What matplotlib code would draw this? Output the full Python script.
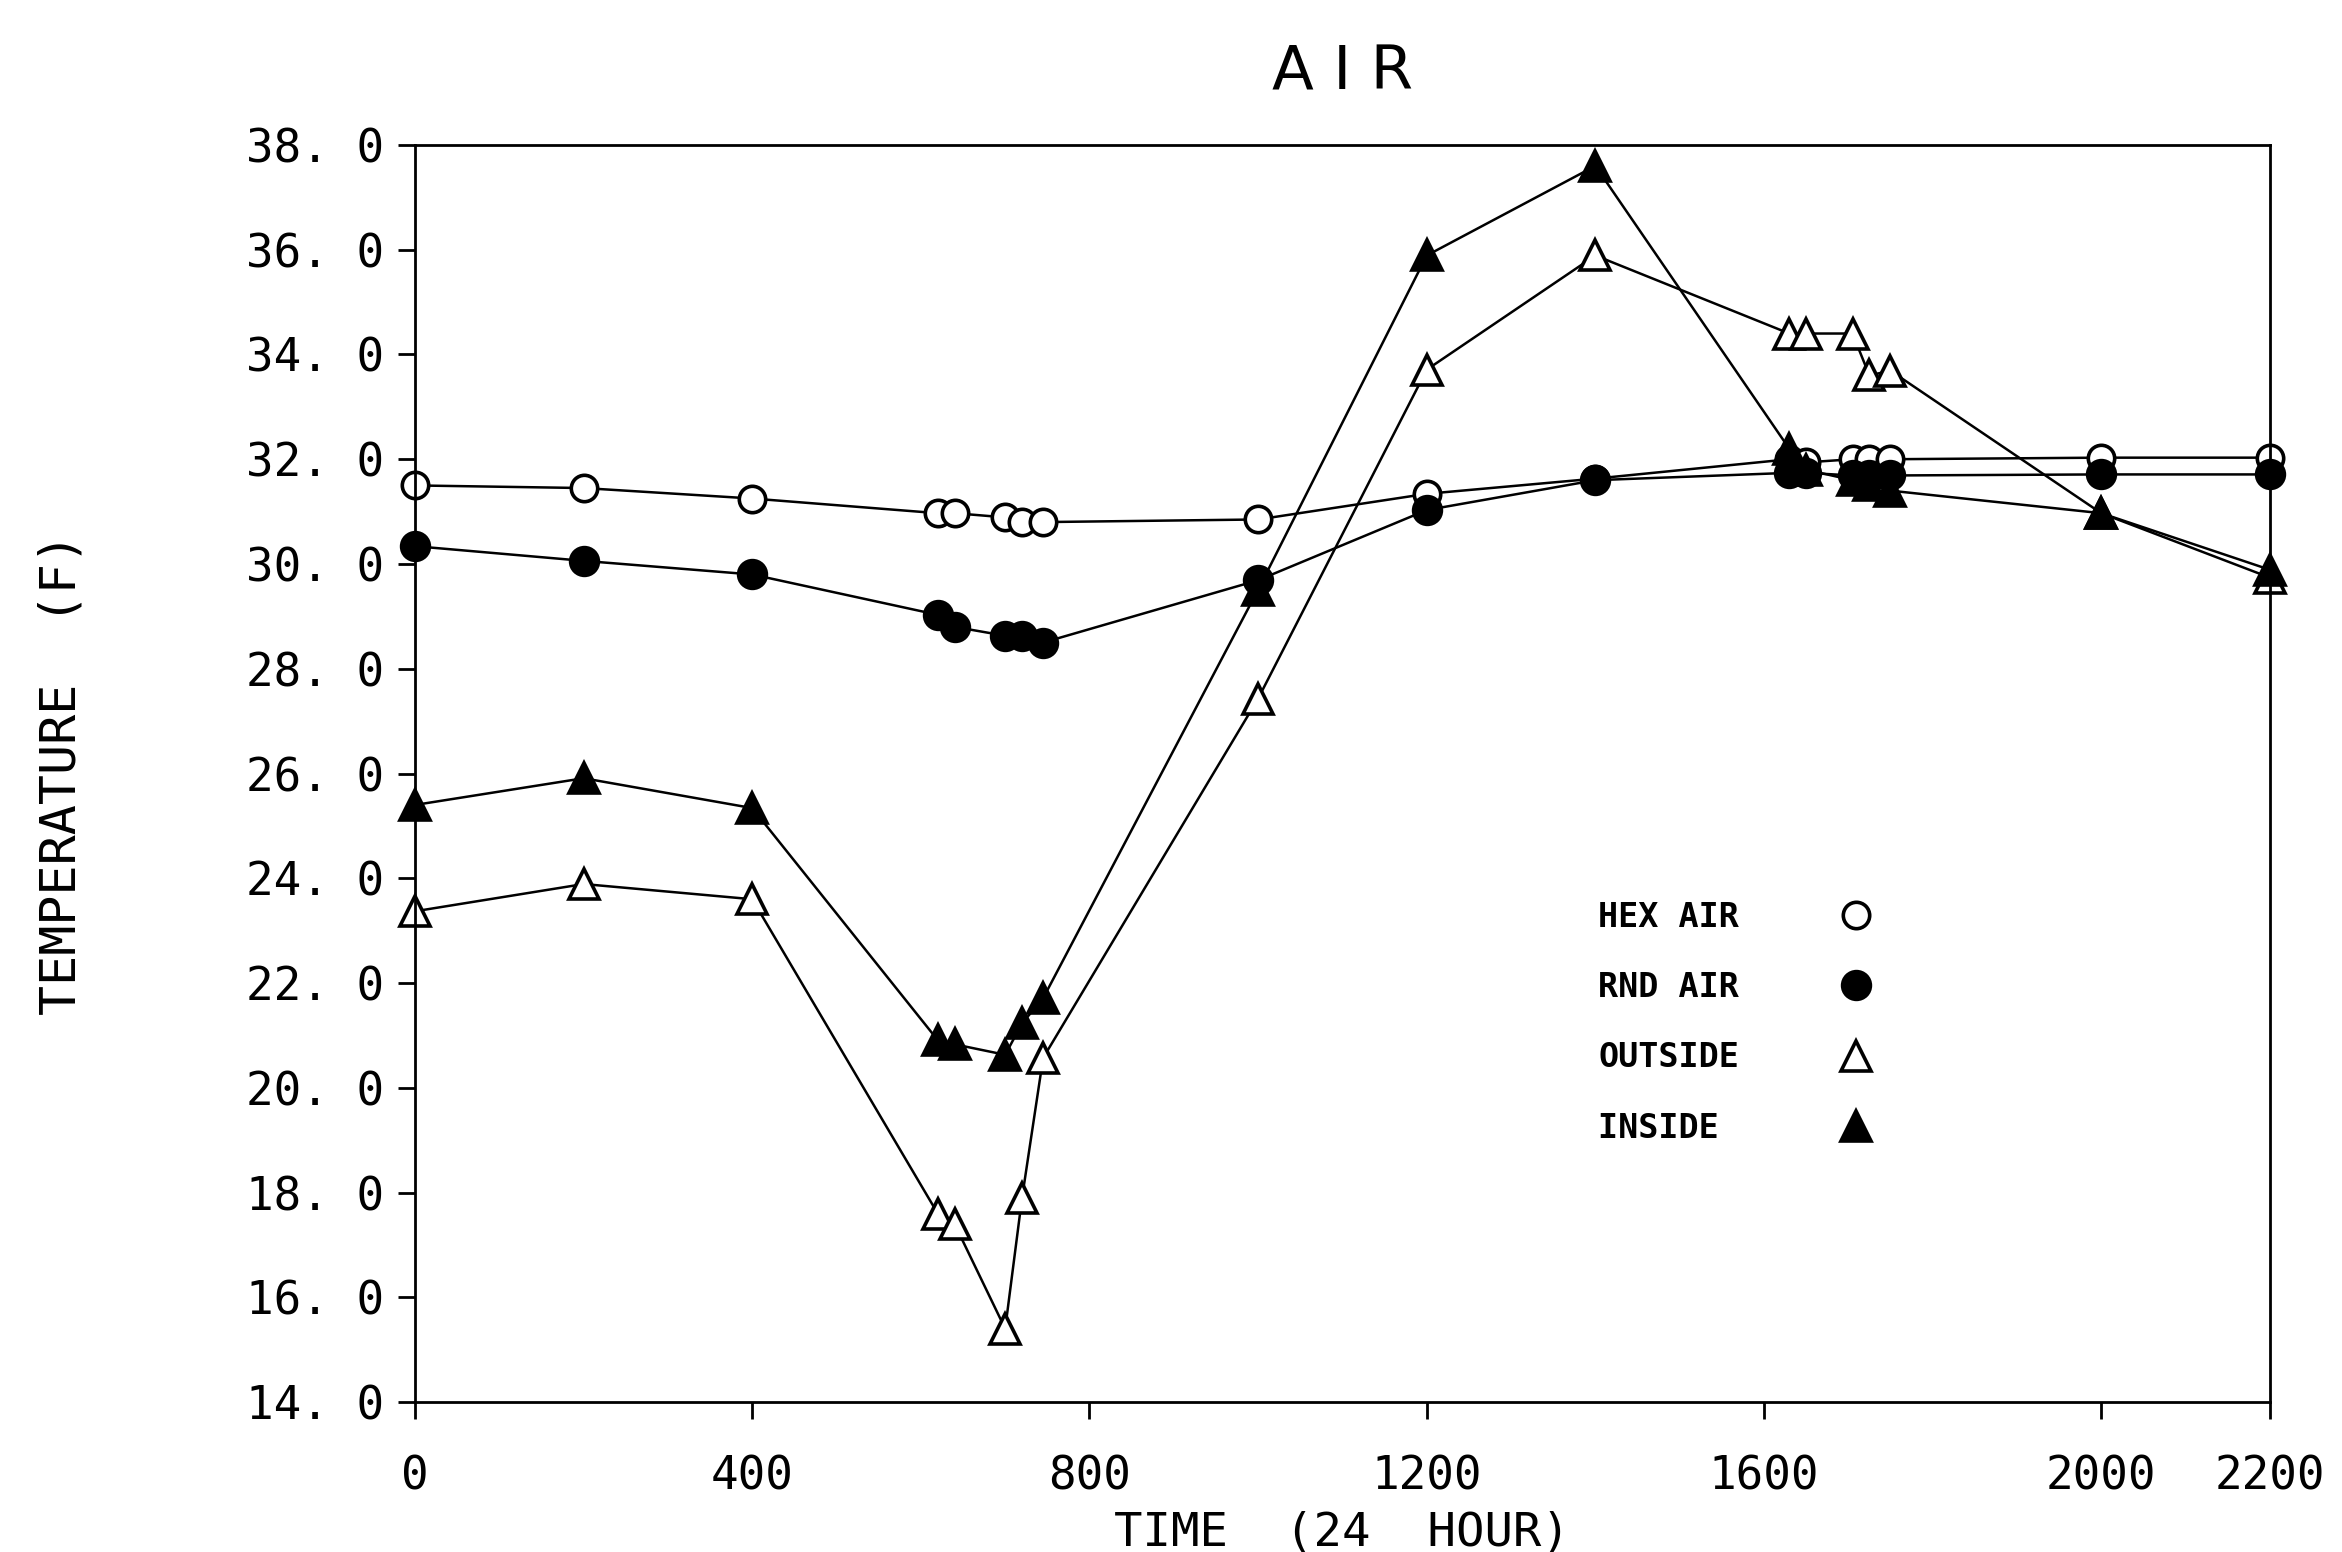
import matplotlib
matplotlib.use('Agg')
import matplotlib.pyplot as plt
from matplotlib.lines import Line2D

# Thoi gian (gio 24) va nhiet do doc tu hinh goc
times = [0, 200, 400, 620, 640, 700, 720, 745, 1000, 1200, 1400,
         1630, 1650, 1705, 1725, 1750, 2000, 2200]

hex_air = [31.5, 31.45, 31.25, 30.97, 30.97, 30.89, 30.8, 30.8, 30.85,
           31.34, 31.63, 32.0, 31.94, 32.0, 32.0, 32.0, 32.03, 32.03]
rnd_air = [30.34, 30.06, 29.8, 29.03, 28.8, 28.63, 28.63, 28.5, 29.69,
           31.03, 31.6, 31.74, 31.74, 31.69, 31.69, 31.69, 31.71, 31.71]
outside = [23.37, 23.89, 23.6, 17.6, 17.4, 15.4, 17.9, 20.57, 27.43,
           33.71, 35.89, 34.4, 34.4, 34.4, 33.6, 33.69, 30.97, 29.74]
inside = [25.4, 25.91, 25.34, 20.91, 20.83, 20.63, 21.23, 21.71, 29.51,
          35.89, 37.6, 32.2, 31.8, 31.6, 31.5, 31.4, 30.97, 29.89]

series_names = ['HEX AIR', 'RND AIR', 'OUTSIDE', 'INSIDE']

x_ticks = [0, 400, 800, 1200, 1600, 2000, 2200]
y_ticks = [14, 16, 18, 20, 22, 24, 26, 28, 30, 32, 34, 36, 38]

FONT = 'DejaVu Sans Mono'


def main():
    fig = plt.figure(figsize=(11.71, 7.76), dpi=200)
    ax = fig.add_axes([0.1772, 0.0966, 0.7920, 0.8100])

    styles = [
        dict(marker='o', markersize=9.5, markerfacecolor='white'),
        dict(marker='o', markersize=10, markerfacecolor='black'),
        dict(marker='^', markersize=10.5, markerfacecolor='white'),
        dict(marker='^', markersize=10.5, markerfacecolor='black'),
    ]
    data = [hex_air, rnd_air, outside, inside]

    for vals, st in zip(data, styles):
        ax.plot(times, vals, color='black', linewidth=0.9,
                markeredgecolor='black', markeredgewidth=1.3,
                clip_on=False, **st)

    ax.set_xlim(0, 2200)
    ax.set_ylim(14, 38)
    ax.set_xticks(x_ticks)
    ax.set_xticklabels([str(t) for t in x_ticks], fontfamily=FONT, fontsize=16.5)
    ax.set_yticks(y_ticks)
    ax.set_yticklabels([f'{v:.1f}'.replace('.', '. ') for v in y_ticks],
                       fontfamily=FONT, fontsize=16.5)
    ax.tick_params(direction='out', length=6, width=1.0)
    ax.tick_params(axis='x', pad=13)
    ax.tick_params(axis='y', pad=5)

    for sp in ax.spines.values():
        sp.set_linewidth(1.0)

    ax.set_title('A I R', fontfamily='DejaVu Sans', fontsize=22, pad=20)
    ax.set_xlabel('TIME  (24  HOUR)', fontfamily=FONT, fontsize=17, labelpad=4)
    ax.set_ylabel('TEMPERATURE  (F)', fontfamily=FONT, fontsize=18, labelpad=58)

    # Chu thich: chu ben trai, ky hieu ben phai
    handles = [Line2D([], [], linestyle='none', color='black',
                      markeredgecolor='black', markeredgewidth=1.3, **st)
               for st in styles]
    labels = [n.ljust(7) for n in series_names]
    ax.legend(handles, labels, loc='upper left',
              bbox_to_anchor=(0.629, 0.412), frameon=False,
              markerfirst=False, handlelength=1.0, handletextpad=3.0,
              labelspacing=1.12, borderpad=0,
              prop={'family': FONT, 'size': 12, 'weight': 'bold'})

    fig.savefig('out.png', dpi=200, facecolor='white')


if __name__ == '__main__':
    main()
